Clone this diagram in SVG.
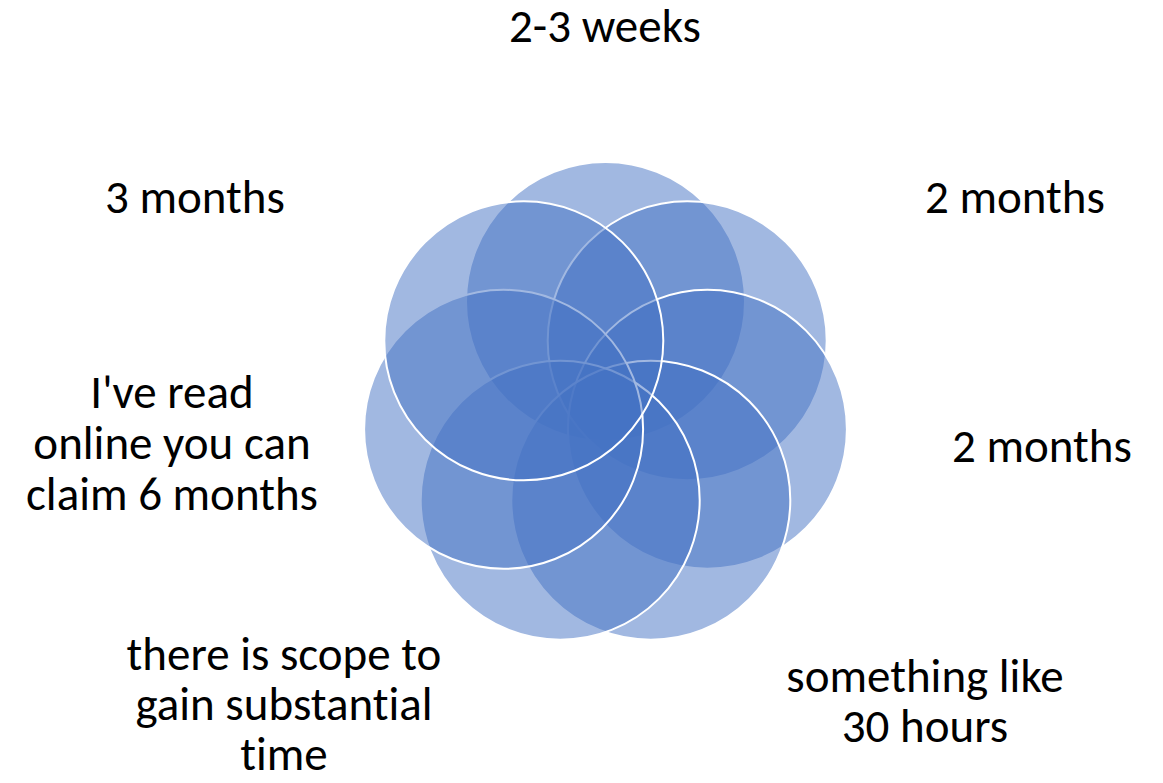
<svg xmlns="http://www.w3.org/2000/svg" width="1163" height="783" viewBox="0 0 1163 783">
<style>
.c { fill:#4472C4; fill-opacity:0.5; stroke:#FFFFFF; stroke-width:2; }
.t { font-family: Carlito, Lato, "Open Sans", sans-serif; font-size:47px; fill:#000000; text-anchor:middle; font-variant-ligatures:none; font-feature-settings:"liga" 0, "clig" 0; }
</style>
<rect x="0" y="0" width="1163" height="783" fill="#FFFFFF"/>
<g id="node1"><circle class="c" cx="605.5" cy="301.5" r="139.5"/><text class="t" x="605" y="42">2-3 weeks</text></g>
<g id="node2"><circle class="c" cx="687.2" cy="340.8" r="139.5"/><text class="t" x="1015" y="213">2 months</text></g>
<g id="node3"><circle class="c" cx="707.4" cy="429.3" r="139.5"/><text class="t" x="1042" y="462">2 months</text></g>
<g id="node4"><circle class="c" cx="650.8" cy="500.2" r="139.5"/><text class="t" x="925" y="692">something like<tspan x="925" y="742">30 hours</tspan></text></g>
<g id="node5"><circle class="c" cx="560.2" cy="500.2" r="139.5"/><text class="t" x="284" y="670">there is scope to<tspan x="284" y="720">gain substantial</tspan><tspan x="284" y="770">time</tspan></text></g>
<g id="node6"><circle class="c" cx="503.6" cy="429.3" r="139.5"/><text class="t" x="172" y="408">I've read<tspan x="172" y="459">online you can</tspan><tspan x="172" y="510">claim 6 months</tspan></text></g>
<g id="node7"><circle class="c" cx="523.8" cy="340.8" r="139.5"/><text class="t" x="195" y="213">3 months</text></g>
<g id="connectors"></g>
</svg>
